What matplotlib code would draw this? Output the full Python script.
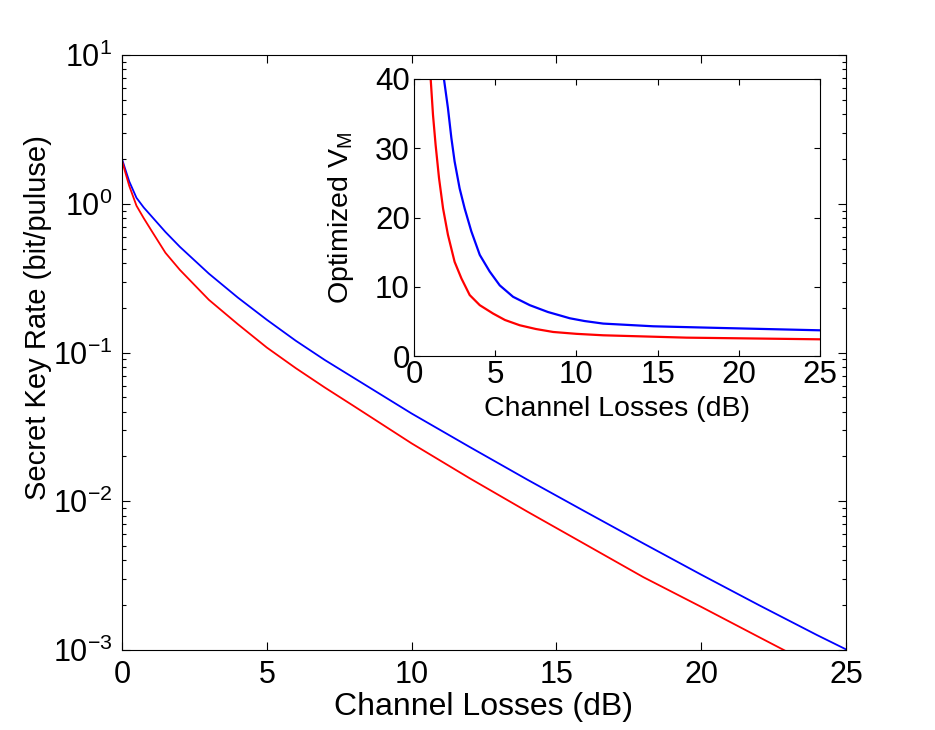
import math
import matplotlib
matplotlib.use("Agg")
import matplotlib.pyplot as plt
from matplotlib.ticker import LogLocator, NullFormatter, FuncFormatter

plt.rcParams['font.family'] = ['Liberation Sans', 'DejaVu Sans']
plt.rcParams['mathtext.fontset'] = 'custom'
plt.rcParams['mathtext.rm'] = 'Liberation Sans'
plt.rcParams['mathtext.it'] = 'Liberation Sans'
plt.rcParams['axes.unicode_minus'] = False

# ---- main panel data: secret key rate vs channel loss ----
loss_blue = [0, 0.1, 0.25, 0.5, 0.75, 1, 1.5, 2, 3, 4, 5, 6, 7, 8, 10, 12, 14, 16, 18,
             20, 22, 24, 25]
rate_blue = [2.0, 1.738, 1.413, 1.096, 0.944, 0.832, 0.646, 0.513, 0.339, 0.234, 0.166,
             0.120, 0.0891, 0.0676, 0.0389, 0.0232, 0.01396, 0.00851, 0.00521, 0.00321,
             0.00200, 0.00126, 0.00101]

loss_red = [0, 0.1, 0.25, 0.5, 0.75, 1, 1.5, 2, 3, 4, 5, 6, 7, 8, 10, 12, 14, 16, 18,
            20, 22, 23, 25]
rate_red = [1.95, 1.66, 1.318, 0.97, 0.80, 0.668, 0.468, 0.359, 0.226, 0.155, 0.108,
            0.0785, 0.0582, 0.0437, 0.0245, 0.01429, 0.00851, 0.00513, 0.00309, 0.00195,
            0.00122, 0.000966, 0.000603]

# ---- inset data: optimized V_M vs channel loss ----
vm_loss_blue = [1.6, 1.85, 2.09, 2.30, 2.50, 2.81, 3.12, 3.53, 4.05, 4.66, 5.28, 6.10, 7.13,
                8.25, 9.0, 9.59, 10.5, 11.65, 14.73, 18.84, 25]
vm_blue = [45, 39.9, 35.8, 31.5, 28.1, 24.2, 21.3, 18.0, 14.6, 12.2, 10.2, 8.55, 7.34,
           6.35, 5.85, 5.45, 5.05, 4.68, 4.29, 4.05, 3.71]

vm_loss_red = [0.9, 1.03, 1.17, 1.33, 1.54, 1.79, 2.09, 2.50, 2.92, 3.43, 4.05, 4.87,
               5.6, 6.51, 7.5, 8.57, 10.0, 11.65, 16.78, 25]
vm_red = [45, 39.9, 34.8, 30.5, 25.7, 21.3, 17.5, 13.6, 11.2, 8.8, 7.34, 6.13,
          5.2, 4.44, 3.9, 3.47, 3.2, 2.99, 2.65, 2.41]

main_xticks = [0, 5, 10, 15, 20, 25]
inset_xticks = [0, 5, 10, 15, 20, 25]
inset_yticks = [0, 10, 20, 30, 40]

W, H = 935, 730
fig = plt.figure(figsize=(W / 100, H / 100), dpi=100)

# main axes
ax = fig.add_axes([122 / W, 1 - 650 / H, (846 - 122) / W, (650 - 55) / H])
ax.plot(loss_blue, rate_blue, color=(0, 0, 1), lw=1.3)
ax.plot(loss_red, rate_red, color=(1, 0, 0), lw=1.3)
ax.set_yscale('log')
ax.set_xlim(0, 25)
ax.set_ylim(1e-3, 10)
ax.set_xticks(main_xticks)
ax.yaxis.set_major_locator(LogLocator(base=10, numticks=10))
ax.yaxis.set_major_formatter(FuncFormatter(
    lambda v, p: r'$\mathregular{10^{%d}}$' % round(math.log10(v))))
ax.yaxis.set_minor_locator(LogLocator(base=10, subs=range(2, 10), numticks=20))
ax.yaxis.set_minor_formatter(NullFormatter())
ax.tick_params(which='both', direction='in', top=True, right=True, width=0.8)
ax.tick_params(which='major', length=5.5, labelsize=22, pad=7)
ax.tick_params(which='minor', length=2.7)
for s in ax.spines.values():
    s.set_linewidth(0.8)
ax.set_xlabel('Channel Losses (dB)', fontsize=23, labelpad=2)
ax.set_ylabel('Secret Key Rate (bit/puluse)', fontsize=21)
ax.yaxis.set_label_coords(-0.097, 0.558)

# inset axes
ins = fig.add_axes([414 / W, 1 - 356 / H, (820 - 414) / W, (356 - 79) / H])
ins.plot(vm_loss_blue, vm_blue, color=(0, 0, 1), lw=1.6)
ins.plot(vm_loss_red, vm_red, color=(1, 0, 0), lw=1.6)
ins.set_xlim(0, 25)
ins.set_ylim(0, 40)
ins.set_xticks(inset_xticks)
ins.set_yticks(inset_yticks)
ins.tick_params(which='both', direction='in', top=True, right=True, width=0.8,
                length=4, labelsize=22.5, pad=3)
for s in ins.spines.values():
    s.set_linewidth(0.8)
ins.set_xlabel('Channel Losses (dB)', fontsize=20.5, labelpad=4)
ins.set_ylabel(r'Optimized V$_\mathregular{M}$', fontsize=20.5, labelpad=14)

fig.savefig('out.png', dpi=100)
